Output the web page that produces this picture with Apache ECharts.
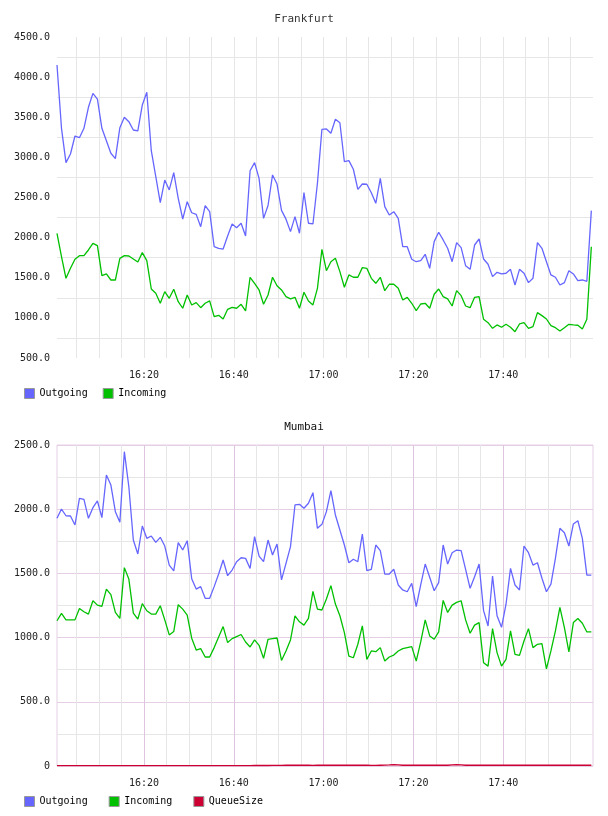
<!DOCTYPE html>
<html><head><meta charset="utf-8">
<script src="https://cdn.jsdelivr.net/npm/echarts@6/dist/echarts.min.js"></script>
<style>html,body{margin:0;padding:0;background:#fff}#c{width:608px;height:816px}</style>
</head><body><div id="c"></div>
<script>
// minutes after 16:00 of first sample (16:00:38), one sample per minute
const startMinute = 0.63;
const tickMinutes = [20, 40, 60, 80, 100];
const tickLabels = ['16:20', '16:40', '17:00', '17:20', '17:40'];

const frankfurtOutgoing = [4151,3362,2934,3042,3266,3245,3362,3624,3798,3727,3362,3208,3051,2984,3370,3499,3445,3341,3329,3653,
3811,3083,2759,2435,2718,2594,2809,2490,2232,2448,2310,2290,2136,2398,2323,1887,1867,1858,2020,2170,
2124,2179,2020,2834,2934,2739,2240,2400,2781,2668,2340,2230,2075,2261,2054,2560,2179,2170,2677,3350,
3354,3300,3475,3432,2946,2959,2852,2602,2668,2665,2560,2428,2739,2386,2282,2323,2241,1887,1887,1730,
1700,1713,1792,1618,1950,2067,1971,1867,1700,1937,1875,1650,1605,1908,1983,1734,1668,1514,1568,1547,
1556,1605,1410,1605,1556,1439,1493,1937,1867,1700,1535,1506,1410,1439,1588,1547,1464,1472,1456,2336];

const frankfurtIncoming = [2054,1763,1493,1618,1730,1775,1775,1846,1929,1900,1526,1547,1472,1472,1742,1775,1771,1734,1697,1813,
1713,1360,1306,1182,1327,1244,1356,1202,1120,1285,1161,1190,1127,1182,1211,1015,1032,986,1107,1132,
1120,1169,1086,1506,1431,1348,1169,1285,1506,1401,1348,1264,1236,1256,1120,1319,1211,1161,1368,1855,
1588,1700,1742,1576,1381,1535,1506,1506,1626,1618,1493,1431,1506,1339,1419,1419,1369,1223,1256,1182,
1090,1173,1182,1120,1294,1360,1264,1236,1148,1339,1277,1148,1127,1256,1264,982,940,870,912,883,
920,883,828,924,940,870,891,1065,1028,986,903,878,837,878,920,912,908,862,982,1887];

const mumbaiOutgoing = [1929,2001,1949,1947,1877,2085,2077,1929,2012,2064,1934,2266,2188,1981,1898,2448,2175,1760,1651,1869,
1773,1791,1742,1781,1713,1565,1519,1739,1682,1755,1458,1378,1397,1306,1306,1397,1495,1604,1482,1526,
1591,1622,1617,1539,1786,1635,1591,1760,1643,1729,1449,1578,1708,2033,2038,2007,2046,2129,1851,1882,
1981,2144,1955,1838,1721,1583,1610,1591,1807,1521,1532,1721,1677,1495,1495,1532,1410,1371,1357,1423,
1241,1410,1573,1470,1365,1428,1721,1573,1661,1682,1677,1532,1384,1474,1573,1210,1090,1480,1170,1080,
1260,1539,1410,1371,1713,1661,1565,1583,1462,1357,1417,1617,1851,1817,1713,1885,1910,1773,1487,1487];

const mumbaiIncoming = [1131,1188,1138,1138,1138,1227,1201,1183,1287,1253,1243,1378,1335,1196,1149,1545,1456,1191,1144,1265,
1209,1183,1183,1248,1138,1021,1047,1256,1222,1175,995,903,914,849,849,922,1005,1086,961,992,
1008,1024,966,927,982,940,838,987,992,997,822,896,982,1170,1123,1097,1149,1360,1222,1215,
1300,1405,1261,1170,1039,856,843,948,1091,830,896,890,922,817,849,864,896,914,922,930,
817,966,1138,1013,987,1044,1290,1196,1253,1274,1287,1138,1034,1097,1117,804,778,1070,883,778,
830,1052,869,862,974,1070,922,948,953,757,896,1052,1235,1078,888,1117,1149,1112,1044,1044];

const mumbaiQueueSize = [3,3,3,3,3,3,3,3,3,3,3,3,3,3,3,3,3,3,3,3,
3,3,3,3,3,3,3,3,3,3,3,3,3,3,3,3,3,3,3,3,
3,3,3,3,4,4,4,4,5,5,5,6,6,6,6,6,6,5,6,6,
6,6,6,6,6,6,6,6,6,6,5,5,6,7,8,10,8,6,6,6,
6,6,6,6,6,6,6,6,8,10,8,6,6,6,6,6,6,6,6,6,
6,6,6,6,6,6,6,6,6,6,6,6,6,6,6,6,6,6,6,6];

const COL_OUT = '#6666ff', COL_IN = '#00c000', COL_Q = '#cc0033';
const FONT = 'DejaVu Sans Mono';
const GRAY = '#e6e6e6', PINK = '#e4cfe4', PINK2 = '#dec4de';

function pairs(arr) { return arr.map((v, i) => [startMinute + i, v]); }
function timeLabel(v) {
  const i = tickMinutes.indexOf(Math.round(v));
  return (Math.abs(v - Math.round(v)) < 1e-6 && i >= 0) ? tickLabels[i] : '';
}
const lab = { fontFamily: FONT, fontSize: 10, color: '#222' };

function xAxisFor(grid, interval, color, showLabels, z) {
  return {
    gridIndex: grid, type: 'value', position: 'bottom', offset: 0, min: startMinute, max: 120,
    minInterval: interval, maxInterval: interval, z: z,
    axisLine: { show: false }, axisTick: { show: false },
    axisLabel: Object.assign({ show: showLabels, margin: 12, showMinLabel: false, showMaxLabel: false, formatter: timeLabel }, lab),
    splitLine: { show: true, showMinLine: false, showMaxLine: false, lineStyle: { color: color, width: 1 } }
  };
}
function line(name, data, color, xi, yi) {
  return { name: name, type: 'line', xAxisIndex: xi, yAxisIndex: yi, data: pairs(data), color: color,
    showSymbol: false, symbol: 'none', lineStyle: { width: 1.3, color: color }, animation: false, z: 5 };
}

const chart = echarts.init(document.getElementById('c'), null, { renderer: 'canvas' });
chart.setOption({
  animation: false,
  backgroundColor: '#fff',
  title: [
    { text: 'Frankfurt', left: 'center', top: 14, padding: 0, textStyle: { fontFamily: FONT, fontSize: 11, fontWeight: 'normal', color: '#333' } },
    { text: 'Mumbai', left: 'center', top: 422, padding: 0, textStyle: { fontFamily: FONT, fontSize: 11, fontWeight: 'normal', color: '#111' } }
  ],
  legend: [
    { data: ['Outgoing', 'Incoming'], left: 24, top: 388, padding: 0, itemGap: 15, itemWidth: 10, itemHeight: 10, icon: 'rect',
      itemStyle: { borderColor: '#999', borderWidth: 1 }, textStyle: { fontFamily: FONT, fontSize: 10, color: '#000' } },
    { data: ['Outgoing', 'Incoming', 'QueueSize'], left: 24, top: 796, padding: 0, itemGap: 21, itemWidth: 10, itemHeight: 10, icon: 'rect',
      itemStyle: { borderColor: '#999', borderWidth: 1 }, textStyle: { fontFamily: FONT, fontSize: 10, color: '#000' } }
  ],
  grid: [
    { left: 57, top: 37, width: 536, height: 321, show: false },
    { left: 57, top: 445, width: 536, height: 321, show: true, borderColor: PINK, borderWidth: 1, backgroundColor: 'rgba(0,0,0,0)' }
  ],
  xAxis: [
    xAxisFor(0, 5, GRAY, true, 0),
    xAxisFor(1, 5, GRAY, false, 0),
    xAxisFor(1, 20, PINK2, true, 1)
  ],
  yAxis: [
    { gridIndex: 0, type: 'value', min: 500, max: 4500, interval: 250,
      axisLine: { show: false }, axisTick: { show: false },
      axisLabel: Object.assign({ margin: 7, formatter: v => (v % 500 === 0 ? v.toFixed(1) : '') }, lab),
      splitLine: { show: true, lineStyle: { color: ['rgba(0,0,0,0)', GRAY], width: 1 } } },
    { gridIndex: 1, type: 'value', min: 0, max: 2500, interval: 250,
      axisLine: { show: false }, axisTick: { show: false },
      axisLabel: Object.assign({ margin: 7, formatter: v => (v % 500 === 0 ? (v === 0 ? '0' : v.toFixed(1)) : '') }, lab),
      splitLine: { show: true, lineStyle: { color: [PINK, GRAY], width: 1 } } }
  ],
  series: [
    line('Outgoing', frankfurtOutgoing, COL_OUT, 0, 0),
    line('Incoming', frankfurtIncoming, COL_IN, 0, 0),
    line('Outgoing', mumbaiOutgoing, COL_OUT, 1, 1),
    line('Incoming', mumbaiIncoming, COL_IN, 1, 1),
    line('QueueSize', mumbaiQueueSize, COL_Q, 1, 1)
  ]
});
</script>
</body></html>
